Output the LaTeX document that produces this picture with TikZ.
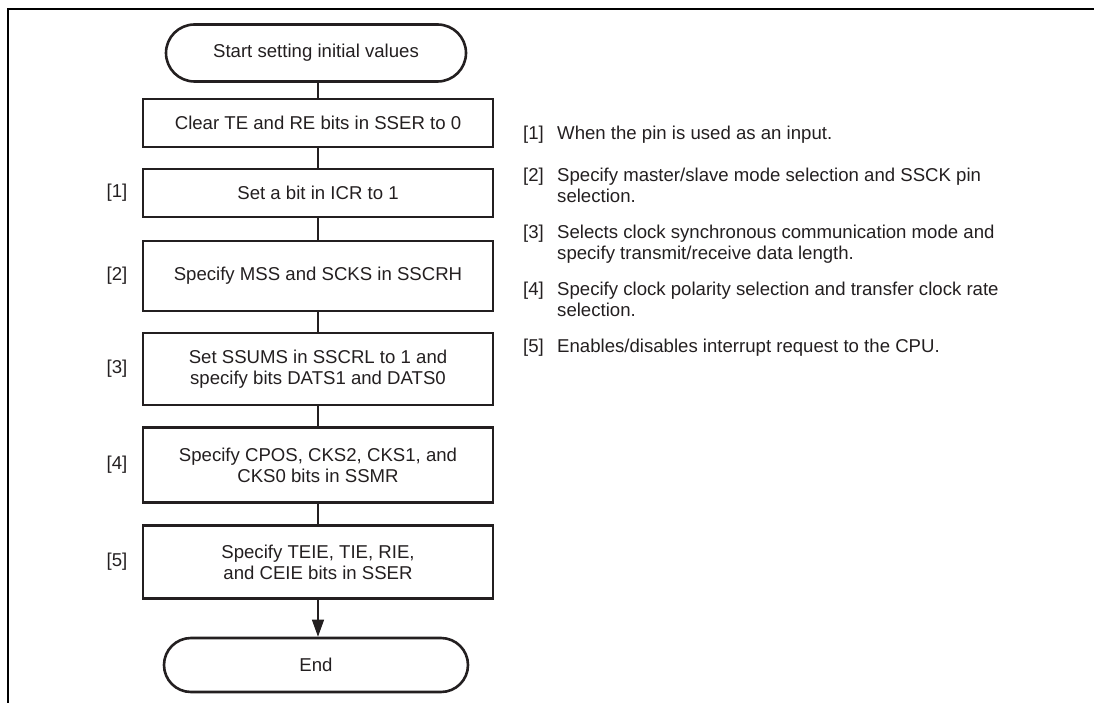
\documentclass[tikz,border=0pt]{standalone}
\usepackage{fontspec}
\setmainfont{Liberation Sans}
\usetikzlibrary{shapes.misc,arrows.meta}
\definecolor{ink}{RGB}{35,31,32}
\begin{document}
\begin{tikzpicture}[x=1pt,y=-1pt,
  every node/.style={text=ink,font=\fontsize{18.6}{21}\selectfont},
  term/.style={draw=ink,line width=2.6pt,rounded rectangle,minimum width=300pt,minimum height=57pt,inner sep=0pt},
  proc/.style={draw=ink,line width=2.6pt,rectangle,minimum width=350pt,inner sep=0pt,align=center},
  conn/.style={draw=ink,line width=1.2pt},
  tag/.style={anchor=center},
  note/.style={anchor=north west,align=left,inner sep=0pt}]
\useasboundingbox (0,0) rectangle (1094,703);
\draw[line width=2.8pt,black] (1094,9) -- (8,9) -- (8,703);

\node[term] (s) at (316,53) {Start setting initial values};
\node[proc,minimum height=48pt] (b0) at (318,123) {Clear TE and RE bits in SSER to 0};
\node[proc,minimum height=48pt] (b1) at (318,193) {Set a bit in ICR to 1};
\node[proc,minimum height=70pt] (b2) at (318,276) {Specify MSS and SCKS in SSCRH};
\node[proc,minimum height=72pt] (b3) at (318,369) {Set SSUMS in SSCRL to 1 and\\specify bits DATS1 and DATS0};
\node[proc,minimum height=75pt] (b4) at (318,465) {Specify CPOS, CKS2, CKS1, and\\CKS0 bits in SSMR};
\node[proc,minimum height=73pt] (b5) at (318,562) {Specify TEIE, TIE, RIE,\\and CEIE bits in SSER};
\node[term,minimum width=304pt,minimum height=54pt] (e) at (316,665) {End};

\draw[conn] (s.south -| b0.north) -- (b0.north);
\draw[conn] (b0) -- (b1);
\draw[conn] (b1) -- (b2);
\draw[conn] (b2) -- (b3);
\draw[conn] (b3) -- (b4);
\draw[conn] (b4) -- (b5);
\draw[conn,-{Triangle[length=17pt,width=12pt]}] (b5.south) -- (b5.south |- e.north);

\node[tag] (t1) at (117,193) {[1]};
\node[tag] (t2) at (117,276) {[2]};
\node[tag] (t3) at (117,369) {[3]};
\node[tag] (t4) at (117,465) {[4]};
\node[tag] (t5) at (117,562) {[5]};

\node[note] (n1) at (523,126) {[1]};
\node[note] (m1) at (557,126) {When the pin is used as an input.};
\node[note] (n2) at (523,168) {[2]};
\node[note] (m2) at (557,168) {Specify master/slave mode selection and SSCK pin\\selection.};
\node[note] (n3) at (523,225) {[3]};
\node[note] (m3) at (557,225) {Selects clock synchronous communication mode and\\specify transmit/receive data length.};
\node[note] (n4) at (523,282) {[4]};
\node[note] (m4) at (557,282) {Specify clock polarity selection and transfer clock rate\\selection.};
\node[note] (n5) at (523,339) {[5]};
\node[note] (m5) at (557,339) {Enables/disables interrupt request to the CPU.};
\end{tikzpicture}
\end{document}
